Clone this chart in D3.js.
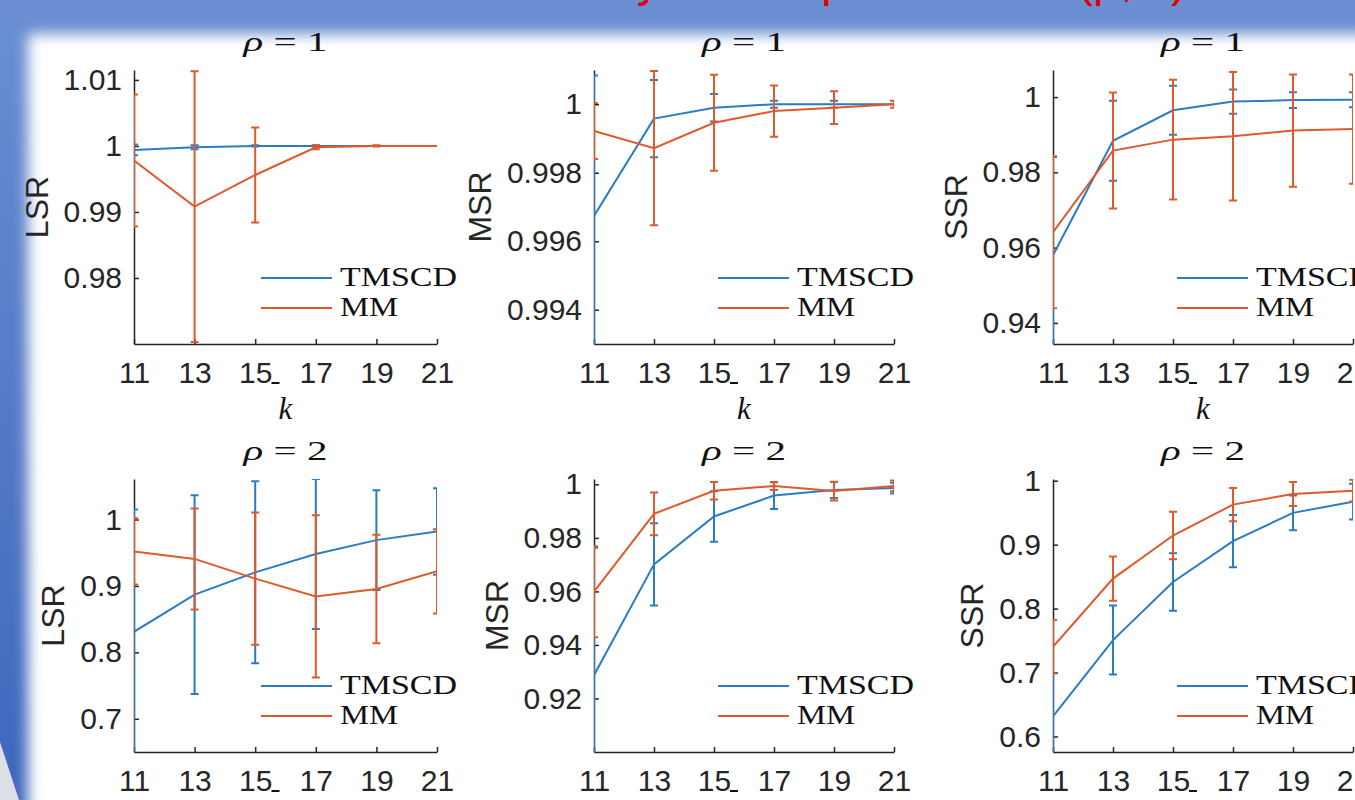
<!DOCTYPE html>
<html>
<head>
<meta charset="utf-8">
<script src="https://cdn.jsdelivr.net/npm/d3@7"></script>
<style>
  html, body { margin: 0; padding: 0; background: #fff; }
  svg { display: block; }
</style>
</head>
<body>
<script>
const width = 1355, height = 800;

// x axis: k-bar values
const kValues = [11, 13, 15, 17, 19, 21];
const seriesNames = ['TMSCD', 'MM'];
const seriesColors = ['#2b7cc3', '#e0592b'];

// rho = 1
const lsrRho1Tmscd    = [0.9994, 0.9998, 1.0, 1.0, 1.0, 1.0];
const lsrRho1TmscdErr = [0.0008, 0.0003, 0.0001, 0.0001, 0.0, 0.0];
const lsrRho1Mm       = [0.9978, 0.9908, 0.9956, 0.9998, 1.0, 1.0];
const lsrRho1MmErr    = [0.0100, 0.0205, 0.0072, 0.0003, 0.0001, 0.0];

const msrRho1Tmscd    = [0.99674, 0.99958, 0.9999, 1.0, 1.0, 1.0];
const msrRho1TmscdErr = [0.0041, 0.00113, 0.0004, 0.0001, 0.0001, 0.0];
const msrRho1Mm       = [0.99922, 0.99872, 0.99946, 0.9998, 0.9999, 1.0];
const msrRho1MmErr    = [0.00082, 0.00225, 0.0014, 0.00075, 0.00048, 0.0001];

const ssrRho1Tmscd    = [0.9580, 0.9884, 0.9965, 0.9988, 0.9992, 0.9993];
const ssrRho1TmscdErr = [0.0261, 0.0106, 0.0065, 0.0032, 0.0021, 0.002];
const ssrRho1Mm       = [0.9641, 0.9858, 0.9887, 0.9896, 0.9911, 0.9915];
const ssrRho1MmErr    = [0.0202, 0.0154, 0.0159, 0.0171, 0.0149, 0.0145];

// rho = 2
const lsrRho2Tmscd    = [0.831, 0.887, 0.9205, 0.948, 0.969, 0.982];
const lsrRho2TmscdErr = [0.184, 0.1495, 0.137, 0.113, 0.075, 0.065];
const lsrRho2Mm       = [0.952, 0.9407, 0.911, 0.8843, 0.8954, 0.922];
const lsrRho2MmErr    = [0.05, 0.076, 0.0997, 0.122, 0.0815, 0.0635];

const msrRho2Tmscd    = [0.9287, 0.9701, 0.988, 0.9958, 0.9979, 0.9986];
const msrRho2TmscdErr = [0.0476, 0.0154, 0.0094, 0.005, 0.003, 0.002];
const msrRho2Mm       = [0.9599, 0.989, 0.9976, 0.9994, 0.9975, 0.9994];
const msrRho2MmErr    = [0.017, 0.008, 0.0033, 0.0015, 0.0035, 0.002];

const ssrRho2Tmscd    = [0.6313, 0.7508, 0.8416, 0.9055, 0.9497, 0.9673];
const ssrRho2TmscdErr = [0.1507, 0.054, 0.045, 0.041, 0.027, 0.028];
const ssrRho2Mm       = [0.7403, 0.8469, 0.9143, 0.9626, 0.9793, 0.9844];
const ssrRho2MmErr    = [0.042, 0.0345, 0.037, 0.026, 0.0187, 0.017];

// y tick values per panel
const lsrRho1Ticks = [0.98, 0.99, 1, 1.01];
const msrRho1Ticks = [0.994, 0.996, 0.998, 1];
const ssrRho1Ticks = [0.94, 0.96, 0.98, 1];
const lsrRho2Ticks = [0.7, 0.8, 0.9, 1];
const msrRho2Ticks = [0.92, 0.94, 0.96, 0.98, 1];
const ssrRho2Ticks = [0.6, 0.7, 0.8, 0.9, 1];

// layout (pixels)
const cols = [{x0: 134, x1: 437}, {x0: 594, x1: 894}, {x0: 1053, x1: 1353}];
const rows = [{y0: 70, y1: 344}, {y0: 479, y1: 752}];

const panels = [
  {row: 0, col: 0, rho: 1, label: 'LSR', domain: [0.97, 1.0115], ticks: lsrRho1Ticks,
    series: [[lsrRho1Tmscd, lsrRho1TmscdErr], [lsrRho1Mm, lsrRho1MmErr]]},
  {row: 0, col: 1, rho: 1, label: 'MSR', domain: [0.993, 1.001], ticks: msrRho1Ticks,
    series: [[msrRho1Tmscd, msrRho1TmscdErr], [msrRho1Mm, msrRho1MmErr]]},
  {row: 0, col: 2, rho: 1, label: 'SSR', domain: [0.9344, 1.0072], ticks: ssrRho1Ticks,
    series: [[ssrRho1Tmscd, ssrRho1TmscdErr], [ssrRho1Mm, ssrRho1MmErr]]},
  {row: 1, col: 0, rho: 2, label: 'LSR', domain: [0.65, 1.061], ticks: lsrRho2Ticks,
    series: [[lsrRho2Tmscd, lsrRho2TmscdErr], [lsrRho2Mm, lsrRho2MmErr]]},
  {row: 1, col: 1, rho: 2, label: 'MSR', domain: [0.9, 1.002], ticks: msrRho2Ticks,
    series: [[msrRho2Tmscd, msrRho2TmscdErr], [msrRho2Mm, msrRho2MmErr]]},
  {row: 1, col: 2, rho: 2, label: 'SSR', domain: [0.5757, 1.0027], ticks: ssrRho2Ticks,
    series: [[ssrRho2Tmscd, ssrRho2TmscdErr], [ssrRho2Mm, ssrRho2MmErr]]}
];

const ink = '#262626';
const sansFont = "'Liberation Sans', Arial, sans-serif";
const serifFont = "'Liberation Serif', 'Times New Roman', serif";

const svg = d3.select('body').append('svg')
  .attr('width', width)
  .attr('height', height);
const defs = svg.append('defs');

// slide background: blue frame fading into white page
const band = defs.append('linearGradient').attr('id', 'band')
  .attr('x1', 0).attr('y1', 0).attr('x2', 0).attr('y2', 1);
band.append('stop').attr('offset', 0).attr('stop-color', '#6b8fd2');
band.append('stop').attr('offset', 1).attr('stop-color', '#3f66bd');
defs.append('filter').attr('id', 'soft')
  .attr('x', -0.1).attr('y', -0.1).attr('width', 1.2).attr('height', 1.2)
  .append('feGaussianBlur').attr('stdDeviation', 7);

svg.append('rect').attr('width', width).attr('height', height).attr('fill', 'url(#band)');
svg.append('rect')
  .attr('x', 28).attr('y', 34)
  .attr('width', 1400).attr('height', 820)
  .attr('fill', '#fff')
  .attr('filter', 'url(#soft)');
svg.append('path')
  .attr('d', 'M0,742L19,800L0,800Z')
  .attr('fill', '#dcdfe6');

// slide heading, mostly off the top edge
svg.append('text')
  .attr('x', 1187).attr('y', -4)
  .attr('text-anchor', 'end')
  .attr('font-family', sansFont)
  .attr('font-size', 48)
  .attr('fill', '#e00000')
  .text('Sensitivity on the parameters (ρ, k̄)');

panels.forEach((p, i) => {
  const c = cols[p.col], r = rows[p.row];
  const x = d3.scaleLinear().domain([11, 21]).range([c.x0, c.x1]);
  const y = d3.scaleLinear().domain(p.domain).range([r.y1, r.y0]);
  const g = svg.append('g');

  // axes (drawn under the data, like MATLAB)
  const yAxis = g.append('g')
    .attr('transform', `translate(${c.x0},0)`)
    .call(d3.axisLeft(y).tickValues(p.ticks).tickFormat(d => String(d))
      .tickSizeInner(-5).tickSizeOuter(0).tickPadding(12));
  const xAxis = g.append('g')
    .attr('transform', `translate(0,${r.y1})`)
    .call(d3.axisBottom(x).tickValues(kValues).tickFormat(d => String(d))
      .tickSizeInner(-5).tickSizeOuter(0).tickPadding(18));
  [yAxis, xAxis].forEach(a => {
    a.attr('font-family', sansFont).attr('font-size', 30);
    a.selectAll('path, line').attr('stroke', ink).attr('stroke-width', 1.5);
    a.selectAll('text').attr('fill', ink);
  });

  // y label, placed left of the widest tick label
  let maxW = 0;
  yAxis.selectAll('text').each(function() { maxW = Math.max(maxW, this.getComputedTextLength()); });
  const ly = (r.y0 + r.y1) / 2, lx = c.x0 - 12 - maxW - 27;
  g.append('text')
    .attr('transform', `translate(${lx},${ly}) rotate(-90)`)
    .attr('text-anchor', 'middle')
    .attr('dominant-baseline', 'central')
    .attr('font-family', sansFont)
    .attr('font-size', 32)
    .attr('fill', ink)
    .text(p.label);

  // title rho = n
  const cx = (c.x0 + c.x1) / 2;
  const title = g.append('text')
    .attr('x', cx).attr('y', r.y0 - 19)
    .attr('text-anchor', 'middle')
    .attr('font-family', serifFont)
    .attr('font-size', 28)
    .attr('fill', '#111')
    .attr('textLength', 84)
    .attr('lengthAdjust', 'spacingAndGlyphs');
  title.append('tspan').attr('font-style', 'italic').text('ρ');
  title.append('tspan').text(' = ' + p.rho);

  // x label k-bar
  g.append('text')
    .attr('x', cx).attr('y', r.y1 + 75)
    .attr('text-anchor', 'middle')
    .attr('font-family', serifFont)
    .attr('font-style', 'italic')
    .attr('font-size', 31)
    .attr('fill', '#111')
    .text('k');
  g.append('line')
    .attr('x1', cx - 14).attr('x2', cx - 6)
    .attr('y1', r.y1 + 39).attr('y2', r.y1 + 39)
    .attr('stroke', '#111').attr('stroke-width', 2);

  // data, clipped to the axes box
  const clipId = 'clip' + i;
  defs.append('clipPath').attr('id', clipId)
    .append('rect')
    .attr('x', c.x0).attr('y', r.y0)
    .attr('width', c.x1 - c.x0).attr('height', r.y1 - r.y0);
  const plot = g.append('g').attr('clip-path', `url(#${clipId})`);

  p.series.forEach(([means, errs], si) => {
    const color = seriesColors[si];
    const pts = kValues.map((k, j) => ({k: k, v: means[j], e: errs[j]}));
    plot.append('g').selectAll('path').data(pts).join('path')
      .attr('d', d => {
        const xx = x(d.k), t = y(d.v + d.e), b = y(d.v - d.e);
        return `M${xx},${t}V${b}M${xx - 4},${t}H${xx + 4}M${xx - 4},${b}H${xx + 4}`;
      })
      .attr('fill', 'none')
      .attr('stroke', color)
      .attr('stroke-width', 2);
    plot.append('path').datum(pts)
      .attr('d', d3.line().x(d => x(d.k)).y(d => y(d.v)))
      .attr('fill', 'none')
      .attr('stroke', color)
      .attr('stroke-width', 2);
  });

  // legend
  seriesNames.forEach((name, si) => {
    const yy = r.y1 - 66 + si * 30;
    g.append('line')
      .attr('x1', c.x1 - 176).attr('x2', c.x1 - 105)
      .attr('y1', yy).attr('y2', yy)
      .attr('stroke', seriesColors[si]).attr('stroke-width', 2);
    g.append('text')
      .attr('x', c.x1 - 97).attr('y', yy + 8)
      .attr('font-family', serifFont)
      .attr('font-size', 27)
      .attr('fill', '#111')
      .attr('textLength', name.length > 2 ? 117 : 58)
      .attr('lengthAdjust', 'spacingAndGlyphs')
      .text(name);
  });
});
</script>
</body>
</html>
